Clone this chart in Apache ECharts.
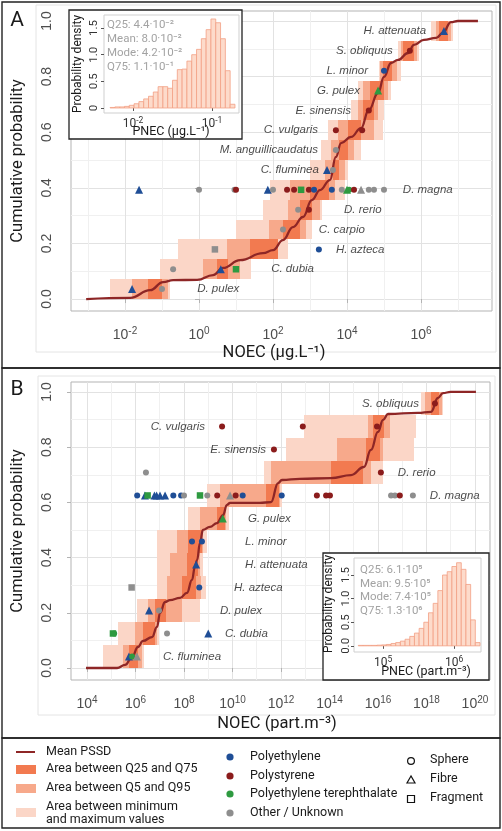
<!DOCTYPE html>
<html><head><meta charset="utf-8">
<script src="https://cdn.jsdelivr.net/npm/echarts@6/dist/echarts.min.js"></script>
<style>html,body{margin:0;padding:0;background:#fff}#c{width:502px;height:831px}</style>
</head><body><div id="c"></div>
<script>
// ================= DATA (log10 of concentrations) =================
// ---- Panel A : NOEC in µg/L ----
const speciesA = ['D. pulex','C. dubia','H. azteca','C. carpio','D. rerio','D. magna','C. fluminea','M. anguillicaudatus','C. vulgaris','E. sinensis','G. pulex','L. minor','S. obliquus','H. attenuata'];
const tileMinMaxA = [[-2.41,-0.78],[-1.05,1.4],[-0.57,2.4],[1.0,3.05],[1.73,3.32],[1.92,3.95],[3.0,4.03],[3.3,4.38],[3.49,4.97],[4.11,5.0],[4.3,5.19],[4.86,5.46],[5.38,5.95],[6.27,6.86]];
const tileQ5Q95A = [[-1.81,-0.84],[0.1,1.1],[0.76,1.9],[1.9,2.9],[2.41,3.27],[2.46,3.68],[3.4,3.95],[3.57,4.19],[3.76,4.73],[4.3,4.85],[4.43,5.11],[4.9,5.35],[5.45,5.9],[6.4,6.8]];
const tileQ25Q75A = [[-1.38,-1.0],[0.49,0.78],[1.38,2.14],[2.27,2.73],[2.73,3.05],[3.0,3.51],[3.62,3.78],[3.78,4.03],[4.03,4.38],[4.43,4.73],[4.62,5.0],[4.97,5.22],[5.51,5.81],[6.49,6.73]];
const meanCurveA = [[-3.05,0],[-1.86,0.004],[-1.32,0.032],[-0.97,0.061],[-0.70,0.068],[-0.05,0.069],[0.38,0.086],[0.65,0.112],[1.11,0.140],[1.73,0.165],[2.0,0.176],[2.27,0.212],[2.54,0.259],[2.81,0.295],[3.05,0.356],[3.27,0.392],[3.54,0.428],[3.70,0.511],[3.84,0.561],[4.11,0.583],[4.38,0.615],[4.59,0.680],[4.84,0.741],[5.0,0.799],[5.19,0.849],[5.38,0.860],[5.65,0.885],[5.81,0.914],[6.08,0.932],[6.41,0.939],[6.59,0.957],[6.81,0.996],[7.0,1.0],[7.54,1.0]];
// [log10 NOEC, species row, polymer, shape]
const pointsA = [
  [-1.81,0,'PE','fibre'],[-1.0,0,'OT','sphere'],
  [-0.70,1,'OT','sphere'],[0.59,1,'PE','fibre'],[1.0,1,'PET','fragment'],
  [0.43,2,'OT','fragment'],[3.24,2,'PE','sphere'],
  [2.27,3,'OT','sphere'],
  [2.68,4,'OT','sphere'],[2.97,4,'PS','sphere'],
  [-1.62,5,'PE','fibre'],[0.0,5,'OT','sphere'],[0.96,5,'OT','sphere'],[1.0,5,'PS','sphere'],[1.86,5,'PE','fibre'],[2.0,5,'OT','sphere'],[2.38,5,'PS','sphere'],[2.57,5,'PS','sphere'],[2.76,5,'PET','fragment'],[2.97,5,'PS','sphere'],[3.11,5,'PE','sphere'],[3.59,5,'PE','sphere'],[3.86,5,'OT','sphere'],[4.0,5,'PET','fibre'],[4.06,5,'PET','sphere'],[4.19,5,'PS','sphere'],[4.38,5,'OT','fibre'],[4.59,5,'OT','sphere'],[4.73,5,'OT','sphere'],[5.0,5,'OT','sphere'],
  [3.46,6,'PE','fibre'],[3.62,6,'OT','sphere'],
  [3.70,7,'OT','sphere'],
  [3.70,8,'PS','sphere'],[4.41,8,'PS','sphere'],
  [4.59,9,'PS','sphere'],
  [4.84,10,'PET','fibre'],
  [5.0,11,'PE','sphere'],
  [5.70,12,'PS','sphere'],
  [6.62,13,'PE','fibre']
];
const labelXA = [-0.05,1.95,3.70,3.24,3.92,5.51,3.24,3.22,3.22,4.11,4.35,4.57,5.24,6.14];
const labelSideA = ['L','L','L','L','L','L','R','R','R','R','R','R','R','R'];
const ticksA = [-2,0,2,4,6];
const minorTicksA = [-3,-1,1,3,5,7];
// inset A : PNEC histogram (µg/L)
const histA_start = -2.29, histA_width = 0.0608;
const histA_density = [0.01,0.02,0.02,0.03,0.05,0.08,0.12,0.17,0.22,0.30,0.40,0.40,0.37,0.52,0.72,0.73,0.88,1.00,1.10,1.30,1.47,1.67,1.60,1.30,0.70,0.07];
const statsA = ['Q25: 4.4·10⁻²','Mean: 8.0·10⁻²','Mode: 4.2·10⁻²','Q75: 1.1·10⁻¹'];
const insetTicksA = [-2,-1];

// ---- Panel B : NOEC in part/m3 ----
const speciesB = ['C. fluminea','C. dubia','D. pulex','H. azteca','H. attenuata','L. minor','G. pulex','D. magna','D. rerio','E. sinensis','C. vulgaris','S. obliquus'];
const tileMinMaxB = [[4.64,6.33],[5.28,6.95],[6.06,8.66],[6.89,8.9],[6.89,8.78],[6.89,8.95],[8.16,9.85],[8.95,12.05],[11.3,16.2],[12.2,17.5],[12.95,17.57],[17.77,18.7]];
const tileQ5Q95B = [[5.5,6.25],[6.0,6.9],[6.5,7.9],[7.3,8.7],[7.42,8.66],[7.71,8.78],[8.66,9.75],[9.5,11.95],[11.6,15.7],[14.3,16.2],[15.6,16.5],[17.95,18.62]];
const tileQ25Q75B = [[5.75,6.1],[6.31,6.8],[6.8,7.25],[7.92,8.5],[8.12,8.58],[8.16,8.74],[9.36,9.7],[11.4,11.9],[14.06,15.38],[15.5,16.1],[15.8,16.25],[18.2,18.5]];
const meanCurveB = [[3.96,0],[5.24,0],[5.57,0.011],[5.86,0.040],[6.10,0.076],[6.31,0.098],[6.68,0.112],[6.89,0.149],[7.01,0.199],[7.22,0.239],[7.42,0.246],[7.84,0.254],[8.12,0.272],[8.33,0.319],[8.45,0.366],[8.54,0.391],[8.66,0.453],[8.78,0.5],[9.07,0.511],[9.36,0.525],[9.61,0.554],[9.77,0.591],[9.90,0.598],[11.13,0.598],[11.59,0.601],[11.88,0.67],[12.04,0.681],[12.78,0.685],[14.06,0.688],[14.89,0.699],[15.42,0.728],[15.71,0.79],[16.0,0.855],[16.21,0.899],[16.41,0.92],[17.65,0.924],[18.19,0.928],[18.47,0.978],[18.68,0.996],[19.0,1.0],[20.04,1.0]];
const pointsB = [
  [5.73,0,'PE','fibre'],[5.86,0,'PET','sphere'],[6.06,0,'OT','fibre'],
  [5.07,1,'PET','fragment'],[5.12,1,'PET','sphere'],[7.3,1,'OT','sphere'],[9.0,1,'PE','fibre'],
  [6.56,2,'PE','fibre'],[6.97,2,'OT','sphere'],
  [5.84,3,'OT','fragment'],[8.63,3,'PE','sphere'],
  [8.5,4,'PE','fibre'],
  [8.33,5,'PE','sphere'],[8.74,5,'PE','sphere'],
  [9.6,6,'PET','fibre'],
  [6.07,7,'PE','sphere'],[6.39,7,'PE','fibre'],[6.50,7,'PET','fragment'],[6.78,7,'PE','fibre'],[6.87,7,'PE','fibre'],[7.01,7,'PE','fibre'],[7.22,7,'PE','fibre'],[7.56,7,'PE','sphere'],[7.88,7,'PE','sphere'],[8.0,7,'OT','sphere'],[8.66,7,'PET','fragment'],[8.96,7,'OT','sphere'],[9.37,7,'PS','sphere'],[9.90,7,'OT','fibre'],[10.13,7,'PS','sphere'],[10.42,7,'PE','sphere'],[12.03,7,'PE','sphere'],[13.48,7,'PS','sphere'],[13.86,7,'PS','sphere'],[14.02,7,'PS','sphere'],[16.54,7,'OT','sphere'],[16.7,7,'OT','sphere'],[16.9,7,'PS','sphere'],[17.44,7,'OT','sphere'],
  [6.43,8,'OT','sphere'],[16.12,8,'PS','sphere'],
  [11.71,9,'PS','sphere'],
  [9.57,10,'PS','sphere'],[12.9,10,'PS','sphere'],[15.96,10,'PS','sphere'],
  [18.35,11,'PS','sphere']
];
const labelXB = [7.13,9.69,9.48,10.06,10.52,10.52,10.64,18.14,16.82,11.38,8.87,17.69];
const labelSideB = ['L','L','L','L','L','L','L','L','L','R','R','R'];
const ticksB = [4,6,8,10,12,14,16,18,20];
const minorTicksB = [5,7,9,11,13,15,17,19];
// inset B : PNEC histogram (part/m3)
const histB_start = 4.65, histB_width = 0.066;
const histB_density = [0.01,0.01,0.01,0.01,0.015,0.02,0.03,0.05,0.07,0.10,0.14,0.20,0.27,0.37,0.50,0.70,0.90,1.17,1.50,1.57,1.68,1.76,1.62,1.30,0.55,0.07];
const statsB = ['Q25: 6.1·10⁵','Mean: 9.5·10⁵','Mode: 7.4·10⁵','Q75: 1.3·10⁶'];
const insetTicksB = [5,6];

const probTicks = [0,0.2,0.4,0.6,0.8,1.0];
const probMinor = [0.1,0.3,0.5,0.7,0.9];

// ================= STYLE =================
const COL = {PE:'#1F4E96', PS:'#8B1C1C', PET:'#2E9A40', OT:'#8E8E8E'};
const SYM = {sphere:'circle', fibre:'triangle', fragment:'rect'};
const SZ = {sphere:6, fibre:8, fragment:6.5};
const C_LIGHT = '#FBD6C7', C_MID = '#F7A98B', C_DARK = '#F27A50', C_LINE = '#8E2626';
const AXF = 'Liberation Sans', TF = 'Roboto';
const BORDER = '#b3b3b3', MAJ = '#e2e2e2', MIN = '#f0f0f0', TXT = '#4d4d4d';

function powFmt(v){ return '{b|10}{s|' + Math.round(v) + '}'; }
function powRich(sz, ssz, col, fam){
  return { b:{fontSize:sz, fontFamily:fam, color:col, lineHeight:sz+4},
           s:{fontSize:ssz, fontFamily:fam, color:col, lineHeight:ssz, verticalAlign:'top'} };
}

function mainX(grid, min, max, ticks, minor){
  return [
    {gridIndex:grid, type:'value', min, max, axisLine:{show:false},
     axisTick:{show:true, customValues:ticks, length:4, lineStyle:{color:BORDER}},
     axisLabel:{customValues:ticks, formatter:powFmt, margin:15, rich:powRich(14,10,TXT,AXF)},
     splitLine:{show:true, lineStyle:{color:MAJ, width:1}}},
    {gridIndex:grid, type:'value', min, max, axisLine:{show:false},
     axisTick:{show:false, customValues:minor}, axisLabel:{show:false},
     splitLine:{show:true, lineStyle:{color:MIN, width:1}}}
  ];
}
function mainY(grid, min, max){
  return [
    {gridIndex:grid, type:'value', min, max, axisLine:{show:false},
     axisTick:{show:true, customValues:probTicks, length:4, lineStyle:{color:BORDER}},
     axisLabel:{customValues:probTicks, rotate:90, margin:17, fontFamily:AXF, fontSize:14, color:TXT,
                formatter:v=>v.toFixed(1)},
     splitLine:{show:true, lineStyle:{color:MAJ, width:1}}},
    {gridIndex:grid, type:'value', min, max, axisLine:{show:false},
     axisTick:{show:false, customValues:probMinor}, axisLabel:{show:false},
     splitLine:{show:true, lineStyle:{color:MIN, width:1}}}
  ];
}
function insetX(grid, min, max, ticks){
  return {gridIndex:grid, type:'value', min, max, z:12, axisLine:{show:false},
    axisTick:{show:true, customValues:ticks, length:3, lineStyle:{color:'#555'}},
    axisLabel:{customValues:ticks, formatter:powFmt, margin:3, rich:powRich(12,8.5,'#333',TF)},
    splitLine:{show:false}};
}
function insetY(grid, min, max, fmt, margin){
  return {gridIndex:grid, type:'value', min, max, z:12, axisLine:{show:false},
    axisTick:{show:true, customValues:[0,0.5,1,1.5], length:3, lineStyle:{color:'#555'}},
    axisLabel:{customValues:[0,0.5,1,1.5], rotate:90, margin, fontFamily:TF, fontSize:11.5, color:'#333', formatter:fmt},
    splitLine:{show:false}};
}

function tileSeries(tiles, n, color, xi, yi, z){
  return {type:'custom', xAxisIndex:xi, yAxisIndex:yi, z, silent:true,
    data: tiles.map((t,i)=>[t[0], t[1], i/n, (i+1)/n]),
    encode:{x:[0,1], y:[2,3]},
    renderItem:(params, api)=>{
      const p0 = api.coord([api.value(0), api.value(2)]);
      const p1 = api.coord([api.value(1), api.value(3)]);
      const x0 = Math.round(p0[0]), x1 = Math.round(p1[0]);
      const yb = Math.round(p0[1]), yt = Math.round(p1[1]);
      return {type:'rect', shape:{x:x0, y:yt, width:x1-x0, height:yb-yt}, style:{fill:color}};
    }};
}
function curveSeries(data, xi, yi){
  return {type:'line', xAxisIndex:xi, yAxisIndex:yi, z:4, data, showSymbol:false, smooth:0.45, smoothMonotone:'x',
    lineStyle:{color:C_LINE, width:2.3}, silent:true};
}
function pointSeries(pts, n, xi, yi){
  return {type:'scatter', xAxisIndex:xi, yAxisIndex:yi, z:5, silent:true,
    data: pts.map(p=>({value:[p[0], (p[1]+0.5)/n], symbol:SYM[p[3]], symbolSize:SZ[p[3]], itemStyle:{color:COL[p[2]], opacity:1}}))};
}
function labelSeries(names, xs, sides, n, xi, yi){
  return {type:'scatter', xAxisIndex:xi, yAxisIndex:yi, z:6, silent:true, symbolSize:1,
    itemStyle:{color:'rgba(0,0,0,0)'},
    data: names.map((nm,i)=>({value:[xs[i], (i+0.5)/n], name:nm,
      label:{show:true, position:'inside', align: sides[i]==='L'?'left':'right', verticalAlign:'middle',
             formatter:nm, fontFamily:AXF, fontStyle:'italic', fontSize:11.5, color:'#1a1a1a'}}))};
}
function histSeries(start, width, dens, xi, yi){
  return {type:'custom', xAxisIndex:xi, yAxisIndex:yi, z:13, silent:true,
    data: dens.map((d,i)=>[start+i*width, start+(i+1)*width, d]),
    encode:{x:[0,1], y:2},
    renderItem:(params, api)=>{
      const p0 = api.coord([api.value(0), 0]);
      const p1 = api.coord([api.value(1), api.value(2)]);
      return {type:'rect', shape:{x:p0[0], y:p1[1], width:p1[0]-p0[0], height:p0[1]-p1[1]},
              style:{fill:'#FDDBCB', stroke:'#F2A084', lineWidth:0.8}};
    }};
}

// ================= GRAPHICS (frames, titles, legend) =================
function txt(x, y, text, opt){
  opt = opt || {};
  return {type:'text', x, y, rotation: opt.rot || 0, z: opt.z || 20,
    style:{text, fontFamily: opt.fam || TF, fontSize: opt.size || 12, fill: opt.color || '#1a1a1a',
           align: opt.align || 'left', verticalAlign:'middle', fontStyle: opt.style || 'normal'}};
}
const G = [];
// light outer plot boxes
G.push({type:'rect', z:1, shape:{x:36, y:5, width:460, height:347}, style:{fill:'none', stroke:'#e4e4e4', lineWidth:1}});
G.push({type:'rect', z:1, shape:{x:38, y:376, width:457, height:339}, style:{fill:'none', stroke:'#e4e4e4', lineWidth:1}});
// black frames
G.push({type:'rect', z:30, shape:{x:2, y:2, width:498, height:366}, style:{fill:'none', stroke:'#222', lineWidth:1.4}});
G.push({type:'rect', z:30, shape:{x:2, y:368, width:498, height:370}, style:{fill:'none', stroke:'#222', lineWidth:1.4}});
G.push({type:'rect', z:30, shape:{x:2, y:738, width:498, height:90}, style:{fill:'none', stroke:'#222', lineWidth:1.4}});
// inset boxes
G.push({type:'rect', z:10, shape:{x:69, y:10, width:173, height:129}, style:{fill:'#fff', stroke:'#222', lineWidth:1.3}});
G.push({type:'rect', z:10, shape:{x:323, y:553, width:166, height:127}, style:{fill:'#fff', stroke:'#222', lineWidth:1.3}});
// panel letters
G.push(txt(17, 21, 'A', {size:21, align:'center'}));
G.push(txt(17, 390, 'B', {size:21, align:'center'}));
// axis titles
G.push(txt(18, 161, 'Cumulative probability', {size:16.5, align:'center', rot:Math.PI/2}));
G.push(txt(18, 531, 'Cumulative probability', {size:16.5, align:'center', rot:Math.PI/2}));
G.push(txt(274, 353, 'NOEC (µg.L⁻¹)', {size:16.5, align:'center'}));
G.push(txt(277, 724, 'NOEC (part.m⁻³)', {size:16.5, align:'center'}));
// inset titles
G.push(txt(78, 64, 'Probability density', {size:12, align:'center', rot:Math.PI/2}));
G.push(txt(171, 132, 'PNEC (µg.L⁻¹)', {size:12.5, align:'center'}));
G.push(txt(329, 604, 'Probability density', {size:12, align:'center', rot:Math.PI/2}));
G.push(txt(426, 672, 'PNEC (part.m⁻³)', {size:12.5, align:'center'}));
statsA.forEach((s,i)=>G.push(txt(107, 25+i*14, s, {size:11.5, color:'#a3a3a3'})));
statsB.forEach((s,i)=>G.push(txt(360, 570+i*13.7, s, {size:11.5, color:'#a3a3a3'})));
// legend
G.push({type:'line', z:20, shape:{x1:16, y1:752, x2:35, y2:752}, style:{stroke:C_LINE, lineWidth:2}});
G.push({type:'rect', z:20, shape:{x:16, y:765, width:20, height:9}, style:{fill:C_DARK}});
G.push({type:'rect', z:20, shape:{x:16, y:784, width:20, height:9}, style:{fill:C_MID}});
G.push({type:'rect', z:20, shape:{x:16, y:808, width:20, height:9}, style:{fill:C_LIGHT}});
G.push(txt(46, 752, 'Mean PSSD', {size:12.5}));
G.push(txt(46, 769, 'Area between Q25 and Q75', {size:12.5}));
G.push(txt(46, 788, 'Area between Q5 and Q95', {size:12.5}));
G.push(txt(46, 807, 'Area between minimum', {size:12.5}));
G.push(txt(46, 820, 'and maximum values', {size:12.5}));
[['PE',757,'Polyethylene'],['PS',776,'Polystyrene'],['PET',794,'Polyethylene terephthalate'],['OT',813,'Other / Unknown']].forEach(r=>{
  G.push({type:'circle', z:20, shape:{cx:230, cy:r[1], r:3.6}, style:{fill:COL[r[0]]}});
  G.push(txt(250, r[1], r[2], {size:12.5}));
});
G.push({type:'circle', z:20, shape:{cx:411, cy:761, r:3.4}, style:{fill:'none', stroke:'#111', lineWidth:1.2}});
G.push({type:'polygon', z:20, shape:{points:[[411,776],[407,783],[415,783]]}, style:{fill:'none', stroke:'#111', lineWidth:1.2}});
G.push({type:'rect', z:20, shape:{x:407.5, y:795.5, width:7, height:7}, style:{fill:'none', stroke:'#111', lineWidth:1.2}});
G.push(txt(430, 760, 'Sphere', {size:12.5}));
G.push(txt(430, 779, 'Fibre', {size:12.5}));
G.push(txt(430, 798, 'Fragment', {size:12.5}));

// ================= OPTION =================
const nA = speciesA.length, nB = speciesB.length;
const xA = mainX(0, -3.46, 7.92, ticksA, minorTicksA);
const yA = mainY(0, -0.043, 1.036);
const xB = mainX(2, 3.34, 20.62, ticksB, minorTicksB);
const yB = mainY(2, -0.0435, 1.036);

const option = {
  animation:false,
  backgroundColor:'#ffffff',
  grid:[
    {left:71, top:11, width:421, height:300, show:true, borderColor:BORDER, borderWidth:1, backgroundColor:'#fff', z:0},
    {left:104, top:15, width:135, height:98, show:true, borderColor:'#cfcfcf', borderWidth:1, backgroundColor:'#fff', z:11},
    {left:71, top:382, width:419, height:298, show:true, borderColor:BORDER, borderWidth:1, backgroundColor:'#fff', z:0},
    {left:354, top:558, width:127, height:94, show:true, borderColor:'#cfcfcf', borderWidth:1, backgroundColor:'#fff', z:11}
  ],
  xAxis:[xA[0], xA[1], insetX(1, -2.367, -0.658, insetTicksA), xB[0], xB[1], insetX(3, 4.59, 6.38, insetTicksB)],
  yAxis:[yA[0], yA[1], insetY(1, -0.094, 1.745, v=> v===0?'0':v.toFixed(1), 4), yB[0], yB[1], insetY(3, -0.13, 1.86, v=>v.toFixed(1), 2)],
  series:[
    tileSeries(tileMinMaxA, nA, C_LIGHT, 0, 0, 2),
    tileSeries(tileQ5Q95A, nA, C_MID, 0, 0, 2),
    tileSeries(tileQ25Q75A, nA, C_DARK, 0, 0, 2),
    curveSeries(meanCurveA, 0, 0),
    pointSeries(pointsA, nA, 0, 0),
    labelSeries(speciesA, labelXA, labelSideA, nA, 0, 0),
    histSeries(histA_start, histA_width, histA_density, 2, 2),
    tileSeries(tileMinMaxB, nB, C_LIGHT, 3, 3, 2),
    tileSeries(tileQ5Q95B, nB, C_MID, 3, 3, 2),
    tileSeries(tileQ25Q75B, nB, C_DARK, 3, 3, 2),
    curveSeries(meanCurveB, 3, 3),
    pointSeries(pointsB, nB, 3, 3),
    labelSeries(speciesB, labelXB, labelSideB, nB, 3, 3),
    histSeries(histB_start, histB_width, histB_density, 5, 5)
  ],
  graphic:{elements:G}
};
const chart = echarts.init(document.getElementById('c'), null, {renderer:'canvas', width:502, height:831});
chart.setOption(option);
</script></body></html>
